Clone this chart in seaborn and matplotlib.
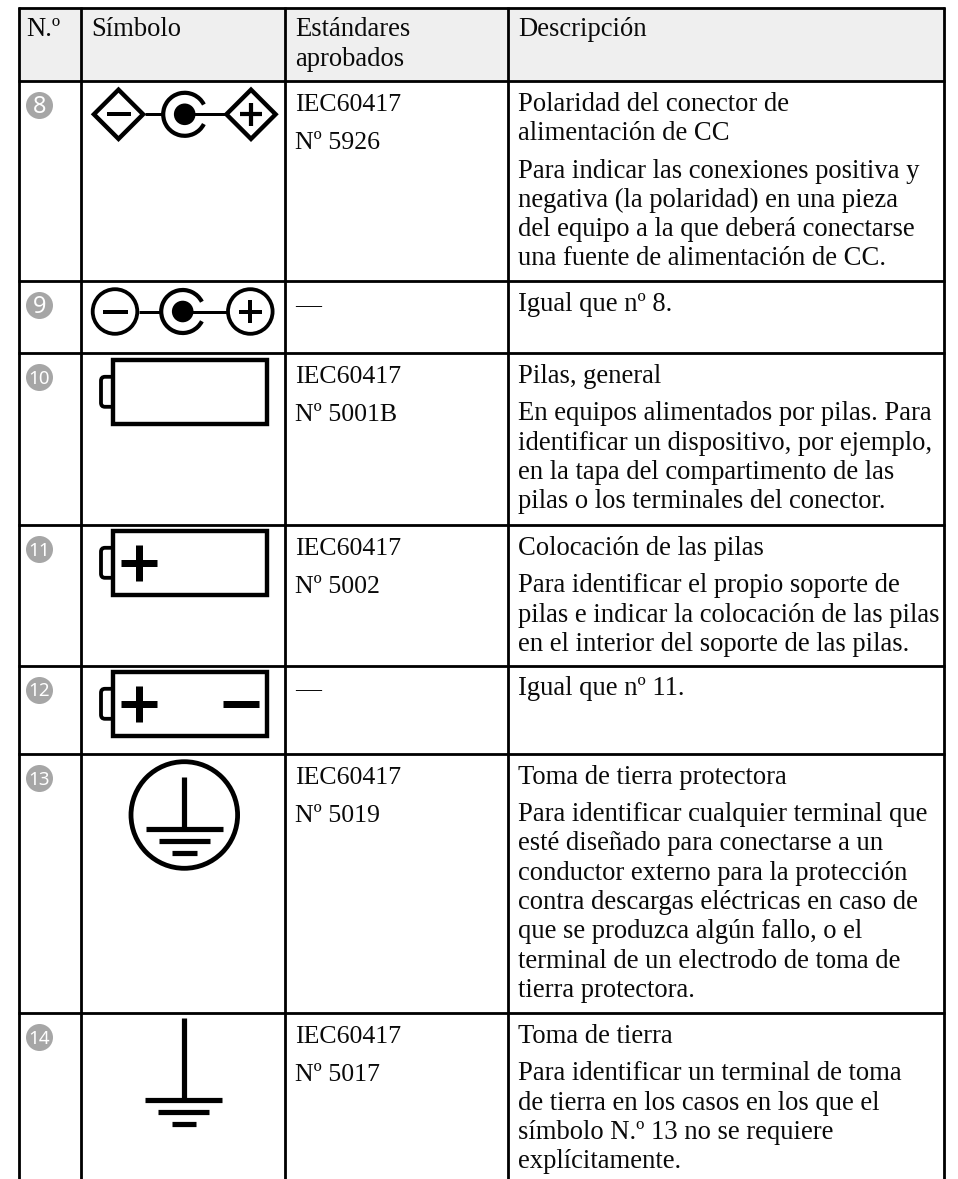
import matplotlib
matplotlib.use("Agg")
import matplotlib.pyplot as plt
import seaborn as sns
from matplotlib.patches import Arc, Circle, Polygon, PathPatch, Rectangle
from matplotlib.path import Path

# contenido de la tabla
encabezados = ["N.º", "Símbolo", "Estándares\naprobados", "Descripción"]
numeros = ["8", "9", "10", "11", "12", "13", "14"]
estandares = [
    ["IEC60417", "Nº 5926"],
    ["—"],
    ["IEC60417", "Nº 5001B"],
    ["IEC60417", "Nº 5002"],
    ["—"],
    ["IEC60417", "Nº 5019"],
    ["IEC60417", "Nº 5017"],
]
titulos = [
    ["Polaridad del conector de", "alimentación de CC"],
    ["Igual que nº 8."],
    ["Pilas, general"],
    ["Colocación de las pilas"],
    ["Igual que nº 11."],
    ["Toma de tierra protectora"],
    ["Toma de tierra"],
]
descripciones = [
    ["Para indicar las conexiones positiva y",
     "negativa (la polaridad) en una pieza",
     "del equipo a la que deberá conectarse",
     "una fuente de alimentación de CC."],
    [],
    ["En equipos alimentados por pilas. Para",
     "identificar un dispositivo, por ejemplo,",
     "en la tapa del compartimento de las",
     "pilas o los terminales del conector."],
    ["Para identificar el propio soporte de",
     "pilas e indicar la colocación de las pilas",
     "en el interior del soporte de las pilas."],
    [],
    ["Para identificar cualquier terminal que",
     "esté diseñado para conectarse a un",
     "conductor externo para la protección",
     "contra descargas eléctricas en caso de",
     "que se produzca algún fallo, o el",
     "terminal de un electrodo de toma de",
     "tierra protectora."],
    ["Para identificar un terminal de toma",
     "de tierra en los casos en los que el",
     "símbolo N.º 13 no se requiere",
     "explícitamente."],
]

# rejilla en pixeles de la imagen
ANCHO, ALTO = 958, 1179
col_x = [19.5, 81.5, 285.5, 508.5, 944]
fila_y = [81, 281, 353, 525, 665.5, 754, 1013]
TOP = 8
GRIS = "#A6A6A6"
TEXTO = "#0A0A0A"
FUENTE = 19.2
FUENTE_STD = 18.6
PX = 0.72  # de pixeles a puntos con dpi=100

sns.set_theme(style="white")
plt.rcParams["font.family"] = ["Liberation Serif", "DejaVu Serif"]

fig = plt.figure(figsize=(ANCHO / 100, ALTO / 100), dpi=100)
ax = fig.add_axes([0, 0, 1, 1])
ax.set_xlim(0, ANCHO)
ax.set_ylim(ALTO, 0)
ax.axis("off")


def barra(x0, y0, x1, y1, ancho):
    # linea recta sin remates
    ax.plot([x0, x1], [y0, y1], color="black", lw=ancho * PX, solid_capstyle="butt", zorder=3)


def mas(cx, cy, medio, grueso):
    barra(cx - medio, cy, cx + medio, cy, grueso)
    barra(cx, cy - medio, cx, cy + medio, grueso)


def rombo(cx, cy, r):
    ax.add_patch(Polygon([(cx - r, cy), (cx, cy - r), (cx + r, cy), (cx, cy + r)], closed=True,
                         fill=False, ec="black", lw=4.4 * PX, joinstyle="miter", zorder=3))


def anillo(cx, cy, r, grueso):
    ax.add_patch(Circle((cx, cy), r, fill=False, ec="black", lw=grueso * PX, zorder=3))


def conector(cx, cy):
    # el circulo abierto con el punto del centro
    ax.add_patch(Arc((cx, cy), 43, 43, theta1=27, theta2=333, ec="black", lw=4.2 * PX, zorder=3))
    ax.add_patch(Circle((cx, cy), 10.8, fc="black", ec="none", zorder=3))


def pila(arriba):
    # cuerpo de la pila y polo redondeado a la izquierda
    ax.add_patch(Rectangle((113.5, arriba + 2.2), 153.6, 63.4, fill=False, ec="black",
                           lw=4.4 * PX, joinstyle="miter", zorder=3))
    m = arriba + 33.8
    verts = [(112, m - 15), (105, m - 15), (101, m - 15), (101, m - 11),
             (101, m + 11), (101, m + 15), (105, m + 15), (112, m + 15)]
    codes = [Path.MOVETO, Path.LINETO, Path.CURVE3, Path.CURVE3,
             Path.LINETO, Path.CURVE3, Path.CURVE3, Path.LINETO]
    ax.add_patch(PathPatch(Path(verts, codes), fill=False, ec="black", lw=3.8 * PX, zorder=3))


def tierra(cx, y0, y1, grueso):
    barra(cx, y0, cx, y1, grueso)
    for dy, medio in zip([0, 12, 24], [38.5, 25.5, 12.3]):
        barra(cx - medio, y1 + dy, cx + medio, y1 + dy, grueso)


# fondo del encabezado y rejilla
ax.add_patch(Rectangle((col_x[0], TOP), col_x[-1] - col_x[0], fila_y[0] - TOP, fc="#EFEFEF", ec="none", zorder=1))
for x in col_x:
    ax.plot([x, x], [TOP - 1.4, ALTO], color="black", lw=2.8 * PX, solid_capstyle="butt", zorder=2)
for y in [TOP] + fila_y:
    ax.plot([col_x[0] - 1.4, col_x[-1] + 1.4], [y, y], color="black", lw=2.8 * PX, solid_capstyle="butt", zorder=2)

# encabezado
texto_x = [26, 91, 295.5, 518]
for x, enc in zip(texto_x, encabezados):
    for i, parte in enumerate(enc.split("\n")):
        ax.text(x, 36.5 + i * 29.3, parte, fontsize=FUENTE, color=TEXTO, va="baseline", zorder=4)

# numeros en circulo gris
badge_y = [y + 24 for y in fila_y]
sns.scatterplot(x=[39.5] * len(numeros), y=badge_y, s=(27 * PX) ** 2, color=GRIS, linewidth=0,
                legend=False, ax=ax, zorder=3)
for n, y in zip(numeros, badge_y):
    tam = 17 if len(n) == 1 else 13.5
    ax.text(39.5, y + tam * 0.49, n, color="white", fontsize=tam, family="Noto Sans",
            fontweight="light", ha="center", va="baseline", zorder=4)

# textos de cada fila
for y, std, tit, desc in zip(fila_y, estandares, titulos, descripciones):
    base = y + 29.7
    for i, linea in enumerate(std):
        ax.text(texto_x[2], base + i * 38, linea, fontsize=FUENTE_STD, color=TEXTO, va="baseline", zorder=4)
    for i, linea in enumerate(tit):
        ax.text(texto_x[3], base + i * 29.3, linea, fontsize=FUENTE, color=TEXTO, va="baseline", zorder=4)
    inicio = base + (len(tit) - 1) * 29.3 + 37.5
    for i, linea in enumerate(desc):
        ax.text(texto_x[3], inicio + i * 29.3, linea, fontsize=FUENTE, color=TEXTO, va="baseline", zorder=4)

# simbolo 8
cy = 114.3
rombo(118.5, cy, 24.6)
barra(107.3, cy, 130.7, cy, 4)
barra(145, cy, 163, cy, 3)
conector(184.7, cy)
barra(190, cy, 227, cy, 3)
rombo(251, cy, 24.6)
mas(251, cy, 11.3, 4.2)

# simbolo 9
cy = 311.5
anillo(115, cy, 22.3, 3.8)
barra(103.3, cy, 127.7, cy, 4)
barra(139, cy, 161, cy, 3)
conector(182.7, cy)
barra(188, cy, 227, cy, 3)
anillo(250.3, cy, 22.3, 3.8)
mas(250.3, cy, 11.6, 4)

# pilas
pila(358)
pila(529)
mas(139.5, 562.6, 18, 7)
pila(670)
mas(139.5, 704, 18, 7)
barra(222.7, 704, 258.7, 704, 7)

# tomas de tierra
anillo(184.3, 815, 53.3, 4.8)
tierra(184.3, 777.3, 828.7, 5.2)
tierra(184, 1017.7, 1100.3, 5.2)

fig.savefig("out.png", dpi=100, facecolor="white")
